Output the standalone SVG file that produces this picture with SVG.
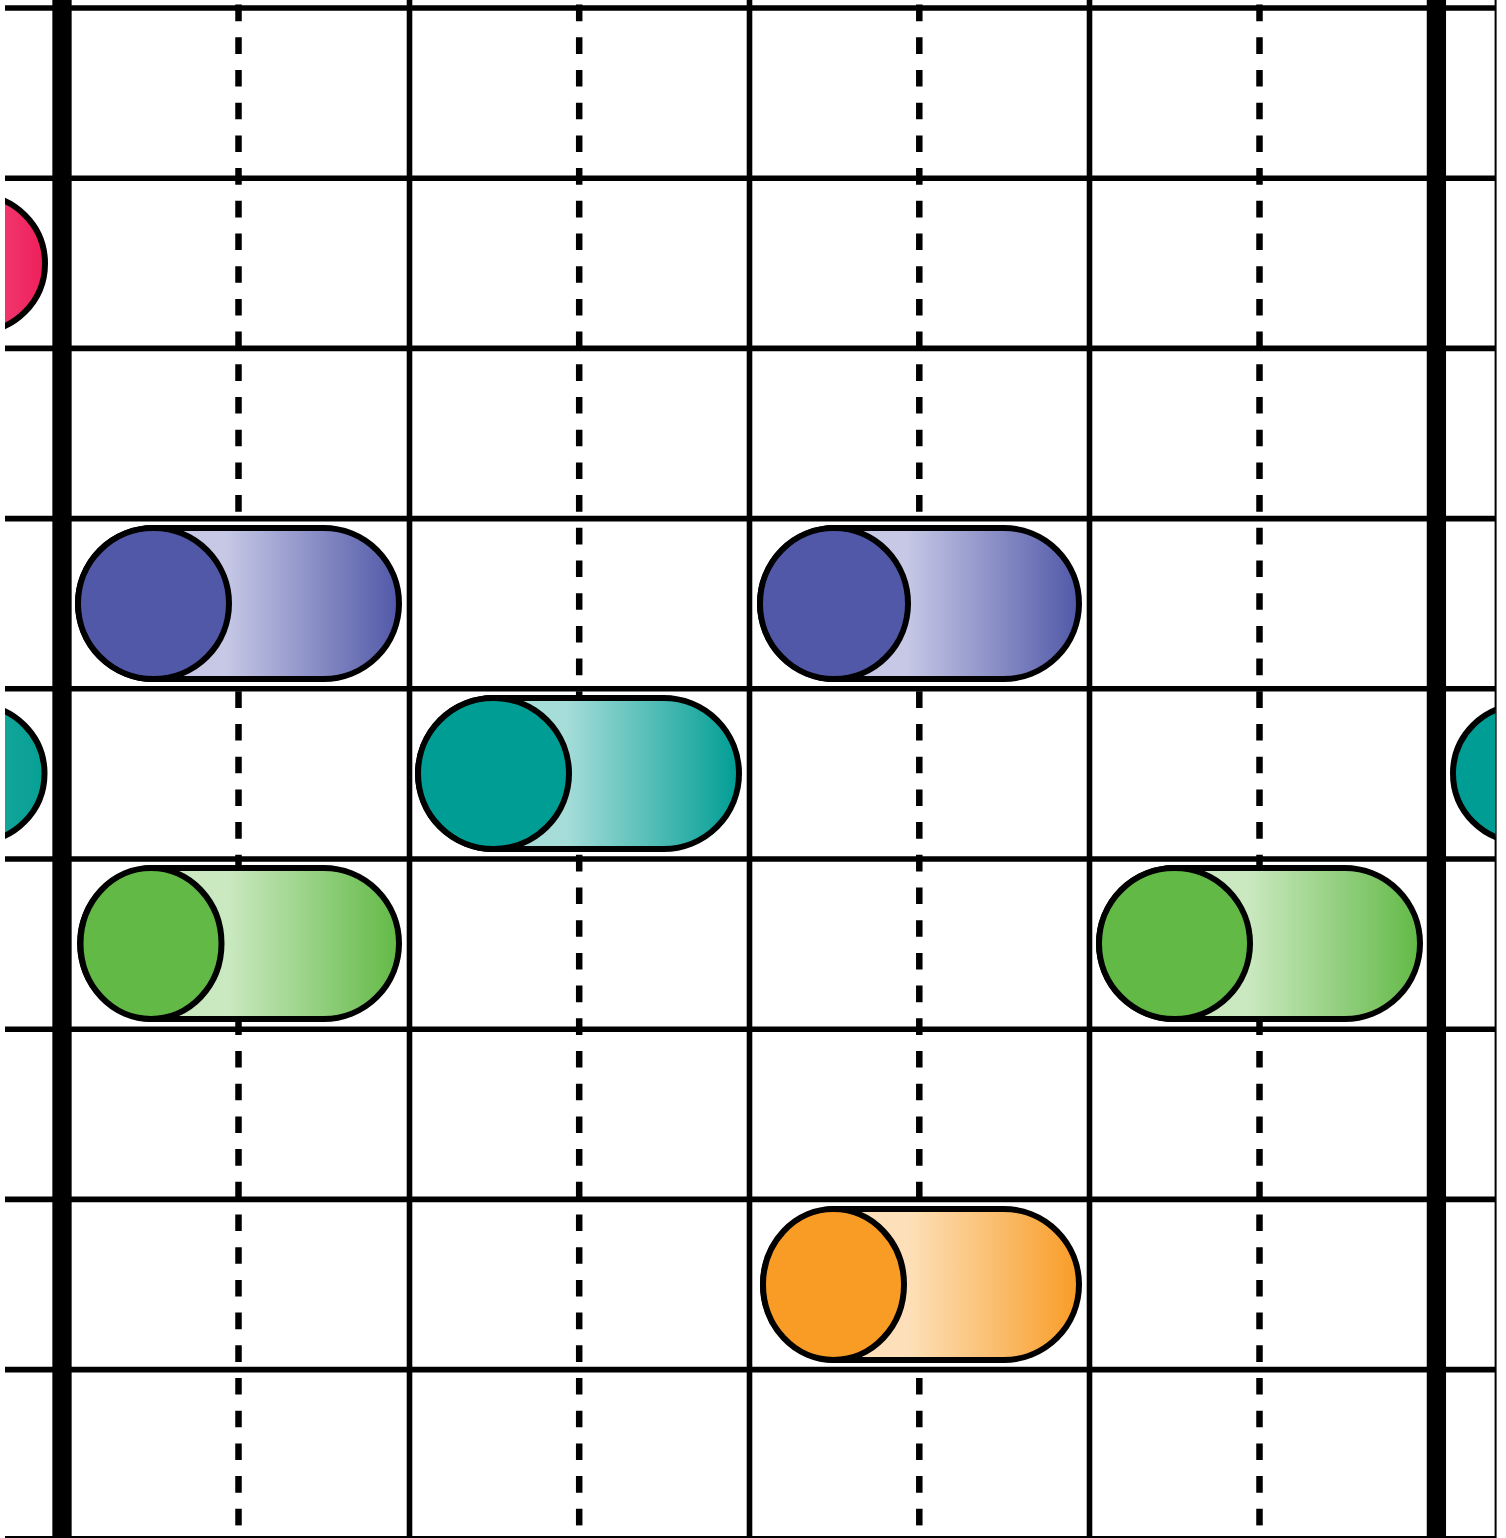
<svg xmlns="http://www.w3.org/2000/svg" width="1506" height="1538" viewBox="0 0 1506 1538">
<defs>
<style>
.h{stroke:#000;stroke-width:5.6;fill:none}
.v{stroke:#000;stroke-width:5.6;fill:none}
.t{stroke:#000;stroke-width:19.3;fill:none}
.d{stroke:#000;stroke-width:6.5;stroke-dasharray:16.6 16.1;fill:none}
.k{stroke:#000;stroke-width:6}
</style>
<linearGradient id="gB" x1="0" y1="0" x2="1" y2="0"><stop offset="0.46" stop-color="#c6c8e6"/><stop offset="1" stop-color="#5158a7"/></linearGradient>
<linearGradient id="gT" x1="0" y1="0" x2="1" y2="0"><stop offset="0.46" stop-color="#a6ddd9"/><stop offset="1" stop-color="#009d94"/></linearGradient>
<linearGradient id="gG" x1="0" y1="0" x2="1" y2="0"><stop offset="0.46" stop-color="#cbe9c1"/><stop offset="1" stop-color="#62b946"/></linearGradient>
<linearGradient id="gO" x1="0" y1="0" x2="1" y2="0"><stop offset="0.46" stop-color="#fde0b9"/><stop offset="1" stop-color="#f89c26"/></linearGradient>
<linearGradient id="gP" x1="0.5" y1="0" x2="1" y2="0"><stop offset="0" stop-color="#f4467a"/><stop offset="1" stop-color="#ee1e5a"/></linearGradient>
<linearGradient id="gTL" x1="0.5" y1="0" x2="1" y2="0"><stop offset="0" stop-color="#1aa79c"/><stop offset="1" stop-color="#07a095"/></linearGradient>
<clipPath id="clip"><rect x="5" y="0" width="1490.5" height="1538"/></clipPath>
</defs>
<rect width="1506" height="1538" fill="#fff"/>
<g id="grid" clip-path="url(#clip)">
<g id="rows">
<line class="h" x1="5" y1="8" x2="1496" y2="8"/>
<line class="h" x1="5" y1="178.2" x2="1496" y2="178.2"/>
<line class="h" x1="5" y1="348.4" x2="1496" y2="348.4"/>
<line class="h" x1="5" y1="518.6" x2="1496" y2="518.6"/>
<line class="h" x1="5" y1="688.8" x2="1496" y2="688.8"/>
<line class="h" x1="5" y1="859" x2="1496" y2="859"/>
<line class="h" x1="5" y1="1029.2" x2="1496" y2="1029.2"/>
<line class="h" x1="5" y1="1199.4" x2="1496" y2="1199.4"/>
<line class="h" x1="5" y1="1369.6" x2="1496" y2="1369.6"/>
<line class="h" x1="5" y1="1538.8" x2="1496" y2="1538.8"/>
</g>
<g id="dashed">
<line class="d" x1="238.5" y1="4.6" x2="238.5" y2="1538"/>
<line class="d" x1="579.2" y1="4.6" x2="579.2" y2="1538"/>
<line class="d" x1="919.3" y1="4.6" x2="919.3" y2="1538"/>
<line class="d" x1="1259.5" y1="4.6" x2="1259.5" y2="1538"/>
</g>
<g id="cols">
<line class="v" x1="409.5" y1="0" x2="409.5" y2="1538"/>
<line class="v" x1="749.5" y1="0" x2="749.5" y2="1538"/>
<line class="v" x1="1089.5" y1="0" x2="1089.5" y2="1538"/>
<line class="t" x1="62" y1="0" x2="62" y2="1538"/>
<line class="t" x1="1436.4" y1="0" x2="1436.4" y2="1538"/>
</g>
</g>
<line id="border" x1="1495.6" y1="0" x2="1495.6" y2="1538" stroke="#000" stroke-width="2"/>
<g id="edge-pink" clip-path="url(#clip)"><circle class="k" cx="-23.5" cy="263.5" r="68.5" fill="url(#gP)"/></g>
<g id="edge-teal-left" clip-path="url(#clip)"><circle class="k" cx="-24" cy="773.5" r="68.5" fill="url(#gTL)"/></g>
<g id="edge-teal-right" clip-path="url(#clip)"><circle class="k" cx="1521.5" cy="773.5" r="68.5" fill="#009d94"/></g>
<g id="pill-blue-1">
<rect class="k" x="78" y="528" width="321" height="151" rx="75.5" fill="url(#gB)"/>
<circle class="k" cx="153.5" cy="603.5" r="75.5" fill="#5158a7"/>
</g>
<g id="pill-blue-2">
<rect class="k" x="760" y="528" width="319" height="151" rx="75.5" fill="url(#gB)"/>
<ellipse class="k" cx="834" cy="603.5" rx="74" ry="75.5" fill="#5158a7"/>
</g>
<g id="pill-teal">
<rect class="k" x="418" y="698" width="321" height="151" rx="75.5" fill="url(#gT)"/>
<circle class="k" cx="493.5" cy="773.5" r="75.5" fill="#009d94"/>
</g>
<g id="pill-green-1">
<rect class="k" x="80" y="868" width="319" height="151" rx="75.5" fill="url(#gG)"/>
<ellipse class="k" cx="151" cy="943.5" rx="70.5" ry="75.5" fill="#62b946"/>
</g>
<g id="pill-green-2">
<rect class="k" x="1099" y="868" width="321" height="151" rx="75.5" fill="url(#gG)"/>
<circle class="k" cx="1174.5" cy="943.5" r="75.5" fill="#62b946"/>
</g>
<g id="pill-orange">
<rect class="k" x="763" y="1209" width="316" height="151" rx="75.5" fill="url(#gO)"/>
<ellipse class="k" cx="833.5" cy="1284.5" rx="70.5" ry="75.5" fill="#f89c26"/>
</g>
</svg>
